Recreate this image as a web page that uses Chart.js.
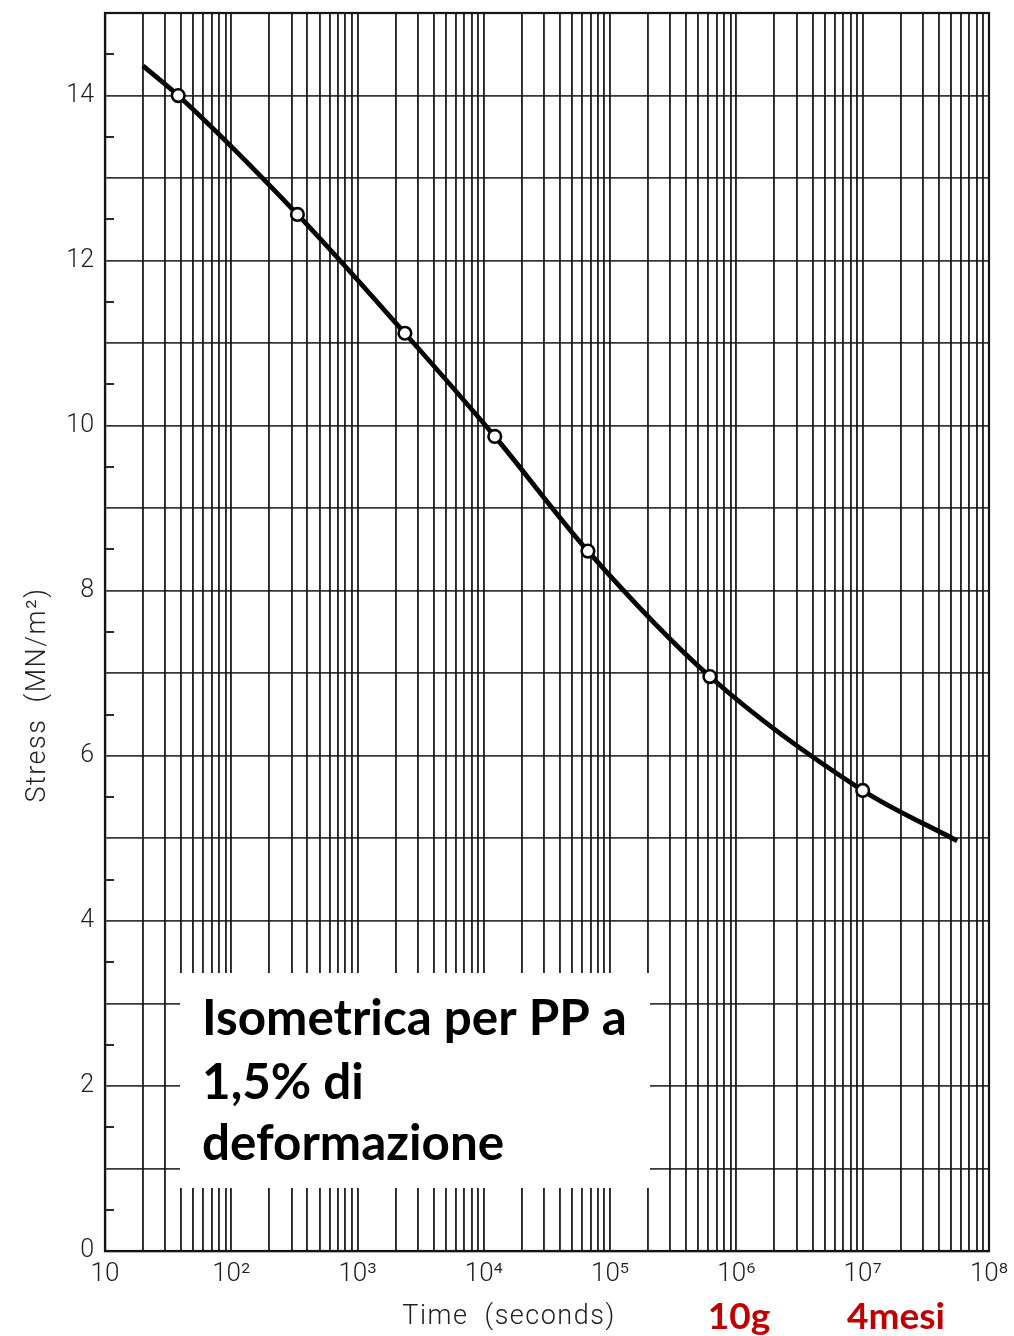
<!DOCTYPE html>
<html>
<head>
<meta charset="utf-8">
<script src="https://cdn.jsdelivr.net/npm/chart.js@4.4.1/dist/chart.umd.min.js"></script>
<style>
  html, body { margin: 0; padding: 0; background: #ffffff; }
  #wrap { width: 1014px; height: 1336px; position: relative; }
  canvas { display: block; }
</style>
</head>
<body>
<div id="wrap"><canvas id="chart" width="1014" height="1336"></canvas></div>
<script>
// Isometric stress curve for polypropylene at 1.5% strain (log time axis)
const measuredTime   = [38, 334, 2370, 12200, 66700, 616000, 1.0e7];   // seconds
const measuredStress = [14.0, 12.56, 11.12, 9.87, 8.48, 6.96, 5.58];    // MN/m2
const curveStartTime = 20,    curveStartStress = 14.36;
const curveEndTime   = 5.6e7, curveEndStress   = 4.97;

const timeMin = 10, timeMax = 1e8;
const decadeExponents = [1, 2, 3, 4, 5, 6, 7, 8];
const stressMin = 0, stressMax = 15;
const stressLabelled = [0, 2, 4, 6, 8, 10, 12, 14];

const xTitle = 'Time  (seconds)';
const yTitle = 'Stress  (MN/m\u00B2)';
const boxLines = ['Isometrica per PP a', '1,5% di', 'deformazione'];
const noteLabels = ['10g', '4mesi'];

const SUP = {'0':'\u2070','1':'\u00B9','2':'\u00B2','3':'\u00B3','4':'\u2074','5':'\u2075','6':'\u2076','7':'\u2077','8':'\u2078','9':'\u2079'};
function powLabel(e) {
  if (e === 1) return '10';
  return '10' + String(e).split('').map(d => SUP[d]).join('');
}

const curve = [{x: curveStartTime, y: curveStartStress}]
  .concat(measuredTime.map((t, i) => ({x: t, y: measuredStress[i]})))
  .concat([{x: curveEndTime, y: curveEndStress}]);
const lastIdx = curve.length - 1;

const INK = '#141414';
const LABEL_FONT = "'Roboto', 'DejaVu Sans', sans-serif";

// frame, half-unit ticks on the stress axis, axis titles, caption box and notes
const decorations = {
  id: 'decorations',
  beforeDatasetsDraw(chart) {
    const {ctx, chartArea: a, scales: {y}} = chart;
    ctx.save();
    ctx.strokeStyle = INK;
    ctx.lineWidth = 1.8;
    for (let v = stressMin + 0.5; v < stressMax; v += 1) {
      const py = Math.round(y.getPixelForValue(v));
      ctx.beginPath();
      ctx.moveTo(a.left, py);
      ctx.lineTo(a.left + 9, py);
      ctx.stroke();
    }
    ctx.lineWidth = 2.2;
    ctx.strokeRect(a.left, a.top, a.right - a.left, a.bottom - a.top);
    ctx.restore();
  },
  afterDraw(chart) {
    const {ctx} = chart;
    ctx.save();
    // axis titles
    ctx.fillStyle = '#222222';
    ctx.font = "300 27px " + LABEL_FONT;
    ctx.letterSpacing = '1.5px';
    ctx.textAlign = 'center';
    ctx.textBaseline = 'middle';
    ctx.fillText(xTitle, 509, 1317);
    ctx.save();
    ctx.translate(38, 695);
    ctx.rotate(-Math.PI / 2);
    ctx.fillText(yTitle, 0, 0);
    ctx.restore();
    ctx.letterSpacing = '0px';

    // caption box
    ctx.fillStyle = '#ffffff';
    ctx.fillRect(180, 973, 470, 215);
    ctx.fillStyle = '#000000';
    ctx.textAlign = 'left';
    ctx.textBaseline = 'alphabetic';
    let size = 60;
    ctx.font = "700 " + size + "px 'Lato', 'Open Sans', sans-serif";
    const w = ctx.measureText(boxLines[0]).width;
    size = size * 425 / w;
    ctx.font = "700 " + size.toFixed(1) + "px 'Lato', 'Open Sans', sans-serif";
    const baselines = [1035, 1099, 1160];
    boxLines.forEach((t, i) => ctx.fillText(t, 202, baselines[i]));

    // time notes in red under the axis
    ctx.fillStyle = '#c00000';
    ctx.textAlign = 'center';
    ctx.font = "700 37px 'Lato', 'Open Sans', sans-serif";
    ctx.fillText(noteLabels[0], 739, 1329);
    ctx.fillText(noteLabels[1], 896, 1329);
    ctx.restore();
  }
};

new Chart(document.getElementById('chart'), {
  type: 'line',
  data: {
    datasets: [{
      data: curve,
      borderColor: '#050505',
      borderWidth: 4.8,
      cubicInterpolationMode: 'monotone',
      fill: false,
      pointRadius: ctx => (ctx.dataIndex === 0 || ctx.dataIndex === lastIdx) ? 0 : 6.3,
      pointBackgroundColor: '#ffffff',
      pointBorderColor: '#050505',
      pointBorderWidth: 2.6,
      clip: false
    }]
  },
  options: {
    responsive: false,
    animation: false,
    devicePixelRatio: 1,
    layout: { padding: { left: 0, right: 25, top: 13, bottom: 0 } },
    plugins: { legend: { display: false }, tooltip: { enabled: false } },
    scales: {
      x: {
        type: 'logarithmic',
        min: timeMin,
        max: timeMax,
        afterBuildTicks(scale) {
          const ticks = [];
          decadeExponents.forEach(e => {
            if (e === decadeExponents[decadeExponents.length - 1]) {
              ticks.push({value: Math.pow(10, e)});
              return;
            }
            for (let m = 1; m <= 9; m++) ticks.push({value: m * Math.pow(10, e)});
          });
          scale.ticks = ticks;
        },
        afterFit(scale) {
          scale.height = 85;
          scale.paddingLeft = 0;
          scale.paddingRight = 0;
        },
        grid: {
          color: 'rgba(15,15,15,0.9)',
          lineWidth: 1.9,
          drawTicks: false
        },
        border: { display: true, color: INK, width: 2.2 },
        ticks: {
          autoSkip: false,
          maxRotation: 0,
          minRotation: 0,
          padding: 8,
          color: '#1e1e1e',
          font: { family: LABEL_FONT, size: 26, weight: '300' },
          callback(value) {
            const e = Math.log10(value);
            return Math.abs(e - Math.round(e)) < 1e-9 ? powLabel(Math.round(e)) : '';
          }
        }
      },
      y: {
        type: 'linear',
        min: stressMin,
        max: stressMax,
        afterFit(scale) {
          scale.width = 105;
          scale.paddingTop = 0;
          scale.paddingBottom = 0;
        },
        grid: {
          color: 'rgba(20,20,20,0.85)',
          lineWidth: 1.7,
          drawTicks: false
        },
        border: { display: true, color: INK, width: 2.2 },
        ticks: {
          stepSize: 1,
          padding: 11,
          color: '#1e1e1e',
          font: { family: LABEL_FONT, size: 25, weight: '300' },
          callback(value) {
            return stressLabelled.includes(value) ? String(value) : '';
          }
        }
      }
    }
  },
  plugins: [decorations]
});
</script>
</body>
</html>
